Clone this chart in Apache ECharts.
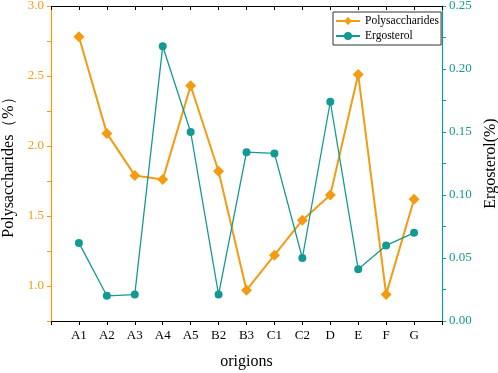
<!DOCTYPE html>
<html>
<head>
<meta charset="utf-8">
<script src="https://cdn.jsdelivr.net/npm/echarts@6/dist/echarts.min.js"></script>
<style>
  html, body { margin: 0; padding: 0; background: #fff; }
  #main { width: 498px; height: 373px; }
</style>
</head>
<body>
<div id="main"></div>
<script>
// categories, with blank slots at both ends
var origins = ['', 'A1', 'A2', 'A3', 'A4', 'A5', 'B2', 'B3', 'C1', 'C2', 'D', 'E', 'F', 'G', ''];
var polysaccharides = [null, 2.78, 2.09, 1.79, 1.76, 2.43, 1.82, 0.97, 1.22, 1.47, 1.65, 2.51, 0.94, 1.62, null];
var ergosterol = [null, 0.062, 0.020, 0.021, 0.218, 0.150, 0.021, 0.134, 0.133, 0.050, 0.174, 0.041, 0.060, 0.070, null];

var ORANGE = '#f39c12';
var TEAL = '#139a93';
var FONT = 'Liberation Serif';

var chart = echarts.init(document.getElementById('main'));

var option = {
    animation: false,
    textStyle: { fontFamily: FONT },
    grid: { left: 51, right: 56, top: 6, bottom: 52, containLabel: false, outerBoundsMode: 'none' },
    legend: {
        orient: 'vertical',
        left: 333,
        top: 12,
        itemWidth: 24,
        itemHeight: 10,
        itemGap: 3,
        padding: [3, 2, 3, 2],
        borderColor: '#333',
        borderWidth: 1,
        textStyle: { fontFamily: FONT, fontSize: 11.5, color: '#000' },
        data: ['Polysaccharides', 'Ergosterol']
    },
    xAxis: [{
        type: 'category',
        data: origins,
        boundaryGap: false,
        name: 'origions',
        nameLocation: 'middle',
        nameGap: 33,
        nameTextStyle: { fontFamily: FONT, fontSize: 16, color: '#000' },
        axisLine: { lineStyle: { color: '#000', width: 1.2 } },
        axisTick: { length: 4, lineStyle: { color: '#000' } },
        axisLabel: { fontFamily: FONT, fontSize: 13, color: '#000', margin: 8 },
        splitLine: { show: false }
    }, {
        type: 'category',
        data: origins,
        boundaryGap: false,
        position: 'top',
        axisLine: { lineStyle: { color: '#000', width: 1.2 } },
        axisTick: { inside: true, length: 4, lineStyle: { color: '#000' } },
        axisLabel: { show: false },
        splitLine: { show: false }
    }],
    yAxis: [{
        type: 'value',
        min: 0.75,
        max: 3.0,
        interval: 0.25,
        name: 'Polysaccharides（%）',
        nameLocation: 'middle',
        nameGap: 33,
        nameTextStyle: { fontFamily: FONT, fontSize: 16, color: '#000' },
        axisLine: { show: true, lineStyle: { color: ORANGE, width: 1.2 } },
        axisTick: { show: true, length: 4, lineStyle: { color: ORANGE } },
        axisLabel: {
            fontFamily: FONT, fontSize: 13, color: ORANGE, margin: 7,
            formatter: function (v) {
                return Math.round(v * 4) % 2 === 0 ? v.toFixed(1) : '';
            }
        },
        splitLine: { show: false }
    }, {
        type: 'value',
        min: 0,
        max: 0.25,
        interval: 0.025,
        name: 'Ergosterol(%)',
        nameLocation: 'middle',
        nameGap: 40,
        nameTextStyle: { fontFamily: FONT, fontSize: 16, color: '#000' },
        axisLine: { show: true, lineStyle: { color: TEAL, width: 1.2 } },
        axisTick: { show: true, length: 4, lineStyle: { color: TEAL } },
        axisLabel: {
            fontFamily: FONT, fontSize: 13, color: TEAL, margin: 7,
            formatter: function (v) {
                return Math.round(v * 40) % 2 === 0 ? v.toFixed(2) : '';
            }
        },
        splitLine: { show: false }
    }],
    series: [{
        name: 'Polysaccharides',
        type: 'line',
        yAxisIndex: 0,
        data: polysaccharides,
        symbol: 'diamond',
        symbolSize: 11,
        itemStyle: { color: ORANGE },
        lineStyle: { color: ORANGE, width: 2 }
    }, {
        name: 'Ergosterol',
        type: 'line',
        yAxisIndex: 1,
        data: ergosterol,
        symbol: 'circle',
        symbolSize: 8,
        itemStyle: { color: TEAL },
        lineStyle: { color: TEAL, width: 1.3 }
    }]
};

chart.setOption(option);
</script>
</body>
</html>
